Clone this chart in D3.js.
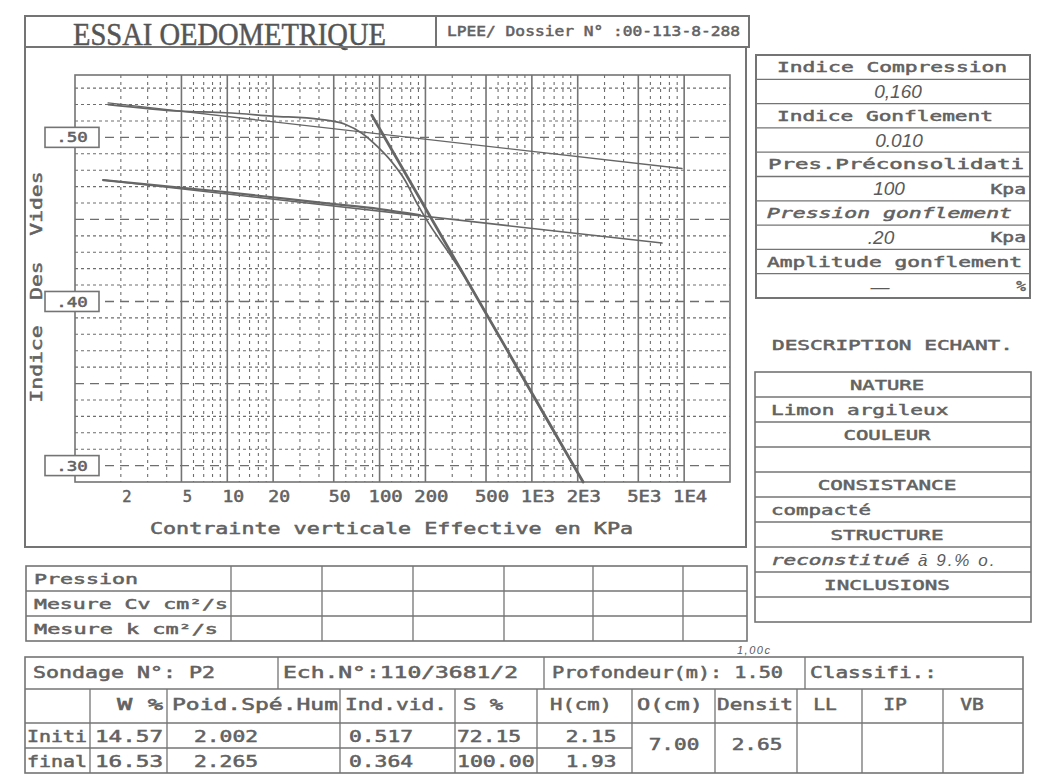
<!DOCTYPE html>
<html><head><meta charset="utf-8">
<script src="https://cdn.jsdelivr.net/npm/d3@7"></script>
<style>body{margin:0;background:#fff}svg{display:block}</style>
</head><body><svg id="c" width="1038" height="778"></svg>
<script>
// ---------------- data ----------------
const xTickValues = [2,5,10,20,50,100,200,500,1000,2000,5000,10000];
const xTickLabels = ["2","5","10","20","50","100","200","500","1E3","2E3","5E3","1E4"];
const xMajorGrid = [5,10,20,50,100,200,500,1000,2000,5000,10000];
const xMinorGrid = [2,3,4,6,7,8,9,12,14,16,18,30,40,60,70,80,90,120,140,160,180,300,400,600,700,800,900,1200,1400,1600,1800,3000,4000,6000,7000,8000,9000];
const yLabelValues = [0.50,0.40,0.30];
const yLabels = [".50",".40",".30"];
const yDashedGrid = [0.30,0.35,0.40,0.45,0.50];
const yMinorGrid = [0.31,0.32,0.33,0.34,0.36,0.37,0.38,0.39,0.41,0.42,0.43,0.44,0.46,0.47,0.48,0.49,0.51,0.52,0.53];

// experimental loading curve (stress kPa, void ratio)
const loadStress = [1.65,4.9,9.8,19.7,40.6,59.3,76.6,97.7,120.6,146.8,178.7,214,277,363,531,774,1150,1600,2170];
const loadVoid   = [0.520,0.516,0.515,0.513,0.511,0.508,0.5025,0.494,0.4849,0.4739,0.4587,0.4465,0.4313,0.415,0.3885,0.362,0.334,0.311,0.290];
// lower experimental curve
const lowStress = [1.53,9,47,100,184];
const lowVoid   = [0.474,0.467,0.4596,0.4563,0.4526];
// construction lines
const ccStress = [89,2170];     const ccVoid = [0.5135,0.290];
const recStress = [1.65,9680];  const recVoid = [0.521,0.481];
const csStress = [1.53,7150];   const csVoid = [0.474,0.4356];

const titleText = "ESSAI OEDOMETRIQUE";
const dossierText = "LPEE/ Dossier N° :00-113-8-288";
const yTitle = "Indice\u00a0\u00a0Des\u00a0\u00a0Vides";
const xTitle = "Contrainte verticale Effective en KPa";

const panelLabels = ["Indice Compression","Indice Gonflement","Pres.Préconsolidati","Pression gonflement","Amplitude gonflement"];
const panelValues = ["0,160","0.010","100",".20","—"];
const panelUnits  = ["","","Kpa","Kpa","%"];

const descTitle = "DESCRIPTION ECHANT.";
const descHeads = ["NATURE","COULEUR","CONSISTANCE","STRUCTURE","INCLUSIONS"];
const descValues = ["Limon argileux","","compacté","reconstitué",""];
const descHand = "ā 9.% o.";

const cvRows = ["Pression","Mesure Cv cm²/s","Mesure k cm²/s"];

const infoRow = ["Sondage N°: P2","Ech.N°:110/3681/2","Profondeur(m): 1.50","Classifi.:"];
const colHeads = ["","W %","Poid.Spé.Hum","Ind.vid.","S %","H(cm)","O(cm)","Densit","LL","IP","VB"];
const initRow = ["Initi","14.57","2.002","0.517","72.15","2.15"];
const finalRow = ["final","16.53","2.265","0.364","100.00","1.93"];
const sharedVals = ["7.00","2.65"];
const handNote = "1,00c";

// ---------------- drawing ----------------
const svg = d3.select("#c");
const INK = "#747474", TXT = "#626262", HAND = "#5a5a5a";
const MONO = "'DejaVu Sans Mono','Liberation Mono',monospace";
const HANDF = "'Liberation Sans','DejaVu Sans',sans-serif";

// o.w : visible width; o.adv : per-character advance (width = n*adv)
function T(x, yc, s, o = {}) {
  const fs = o.fs || 14;
  const t = svg.append("text").attr("x", x).attr("y", yc + 0.36 * fs).text(s)
    .attr("font-family", o.ff || MONO).attr("font-size", fs)
    .attr("fill", o.fill || TXT).attr("text-anchor", o.anchor || "start");
  let w = o.w;
  if (!w && o.adv) w = s.length * o.adv - 0.25 * o.adv;
  if (w) t.attr("textLength", w).attr("lengthAdjust", o.adj || "spacingAndGlyphs");
  else if (o.ls != null) t.attr("letter-spacing", o.ls);
  if (o.italic) t.attr("font-style", "italic");
  if (!o.ff) t.attr("stroke", o.fill || TXT).attr("stroke-width", 0.5);
  return t;
}
function R(x, y, w, h, sw = 1.5, fill = "none") {
  return svg.append("rect").attr("x", x).attr("y", y).attr("width", w).attr("height", h)
    .attr("fill", fill).attr("stroke", INK).attr("stroke-width", sw);
}
function L(x1, y1, x2, y2, sw = 1.3) {
  return svg.append("line").attr("x1", x1).attr("y1", y1).attr("x2", x2).attr("y2", y2)
    .attr("stroke", INK).attr("stroke-width", sw);
}

// Title row
R(25, 16, 411, 31, 2);
R(436, 16, 313, 31, 2);
T(73, 33, titleText, {ff: "'Liberation Serif',serif", fs: 32, w: 313, fill: "#555"})
  .attr("stroke", "#555").attr("stroke-width", 0.5);
T(447, 31, dossierText, {fs: 14, w: 293});

// Main frame
R(25, 47, 721, 500, 2);

// Plot scales
const X0 = 75, X1 = 730, Y0 = 75, Y1 = 482;
const x = d3.scaleLog().domain([1, 20000]).range([X0, X1]);
const y = d3.scaleLinear().domain([0.29, 0.538]).range([Y1, Y0]);

const g = svg.append("g");
g.selectAll(".hm").data(yMinorGrid).join("line")
  .attr("x1", X0).attr("x2", X1).attr("y1", d => y(d)).attr("y2", d => y(d))
  .attr("stroke", "#6e6e6e").attr("stroke-width", 1.1).attr("stroke-dasharray", "3,3");
g.selectAll(".hd").data(yDashedGrid).join("line")
  .attr("x1", X0).attr("x2", X1).attr("y1", d => y(d)).attr("y2", d => y(d))
  .attr("stroke", "#6e6e6e").attr("stroke-width", 1.3).attr("stroke-dasharray", "9,6");
g.selectAll(".vm").data(xMinorGrid).join("line")
  .attr("x1", d => x(d)).attr("x2", d => x(d)).attr("y1", Y0).attr("y2", Y1)
  .attr("stroke", "#6e6e6e").attr("stroke-width", 1.1).attr("stroke-dasharray", "3,4");
g.selectAll(".vM").data(xMajorGrid).join("line")
  .attr("x1", d => x(d)).attr("x2", d => x(d)).attr("y1", Y0).attr("y2", Y1)
  .attr("stroke", INK).attr("stroke-width", 1.6);
R(X0, Y0, X1 - X0, Y1 - Y0, 1.6);

// curves and lines
function pts(xs, ys) { return xs.map((v, i) => [x(v), y(ys[i])]); }
const line = d3.line();
const curve = d3.line().curve(d3.curveMonotoneX);
function path(p, gen, sw) {
  svg.append("path").attr("d", gen(p)).attr("fill", "none").attr("stroke", "#666")
    .attr("stroke-width", sw).attr("stroke-linejoin", "round").attr("stroke-linecap", "round");
}
path(pts(recStress, recVoid), line, 1.4);
path(pts(csStress, csVoid), line, 1.6);
path(pts(lowStress, lowVoid), curve, 2.2);
path(pts(loadStress, loadVoid), curve, 1.7);
path(pts(ccStress, ccVoid), line, 2.8);

// y labels (boxed)
yLabelValues.forEach((v, i) => {
  R(45, y(v) - 10, 54, 20, 1.6, "#fff");
  T(72, y(v), yLabels[i], {fs: 14, anchor: "middle", adv: 11.5});
});
// x tick labels
xTickValues.forEach((v, i) => {
  T(x(v) + 6, 497, xTickLabels[i], {fs: 15, anchor: "middle", adv: 12.4});
});
// axis titles
T(150, 529, xTitle, {fs: 15, w: 483});
svg.append("text").attr("transform", "translate(" + (36 + 0.36 * 16) + ",287) rotate(-90)")
  .attr("text-anchor", "middle").attr("font-family", MONO).attr("font-size", 16)
  .attr("stroke", TXT).attr("stroke-width", 0.5)
  .attr("fill", TXT).attr("textLength", 231).attr("lengthAdjust", "spacingAndGlyphs").text(yTitle);

// ---------------- right panel ----------------
const PX = 756, PW = 274, PT = 55, PH = 24.3;
R(PX, PT, PW, PH * 10, 2);
for (let i = 1; i < 10; i++) L(PX, PT + PH * i, PX + PW, PT + PH * i, 1.3);
const labelLayout = [[777, 230], [777, 216], [768, 256], [767, 245], [767, 255]];
const valueCx = [898, 899, 889, 881, 880];
panelLabels.forEach((s, i) => {
  T(labelLayout[i][0], PT + PH * (2 * i + 0.5), s, {fs: 14, w: labelLayout[i][1], italic: i === 3});
  T(valueCx[i], PT + PH * (2 * i + 1.5), panelValues[i], {ff: HANDF, fs: 19, italic: true, anchor: "middle", fill: HAND});
  if (panelUnits[i]) T(1026, PT + PH * (2 * i + 1.5), panelUnits[i], {fs: 14, anchor: "end", adv: 12.9});
});

// description
T(772, 345, descTitle, {fs: 14, w: 241});
const DT = 372, DH = 25;
R(755, DT, 276, DH * 10, 1.6);
for (let i = 1; i < 10; i++) L(755, DT + DH * i, 1031, DT + DH * i, 1.3);
descHeads.forEach((s, i) => {
  T(887, DT + DH * (2 * i + 0.5), s, {fs: 14, anchor: "middle", adv: 12.9});
  if (descValues[i]) T(771, DT + DH * (2 * i + 1.5), descValues[i], {fs: 14, adv: 12.9, italic: i === 3});
});
T(918, DT + DH * 7.5, descHand, {ff: HANDF, fs: 17, italic: true, fill: HAND, ls: 2});

// Cv table
R(26, 566, 721, 75, 1.6);
L(26, 591, 747, 591); L(26, 616, 747, 616);
[231, 322, 413, 504, 593, 683].forEach(cx => L(cx, 566, cx, 641));
const cvW = [104, 194, 184];
cvRows.forEach((s, i) => T(34, 578.5 + 25 * i, s, {fs: 14, w: cvW[i]}));

// bottom table
R(25, 657, 998, 116, 1.6);
L(25, 689, 1023, 689); L(25, 723, 1023, 723); L(25, 748, 632, 748);
[278, 544, 805].forEach(cx => L(cx, 657, cx, 689));
[90, 167, 340, 455, 537, 632, 715, 797, 862, 943].forEach(cx => L(cx, 689, cx, 773));
const infoLayout = [[33, 182], [283, 235], [552, 231], [810, 127]];
infoRow.forEach((s, i) => T(infoLayout[i][0], 673, s, {fs: 15, w: infoLayout[i][1]}));
const headLayout = [null, [117, 46], [172, 166], [345, 102], [463, 40], [550, 62], [637, 66], [717, 76], [825], [895], [972]];
colHeads.forEach((s, i) => {
  if (!s) return;
  const l = headLayout[i];
  if (l.length === 2) T(l[0], 705, s, {fs: 15, w: l[1]});
  else T(l[0], 705, s, {fs: 15, anchor: "middle", adv: 13.5});
});
const rowLayout = [[27, 60, "s"], [95, 68, "s"], [226, 0, "m"], [381, 0, "m"], [457, 0, "s"], [591, 0, "m"]];
[initRow, finalRow].forEach((row, r) => {
  row.forEach((s, i) => {
    const l = rowLayout[i];
    const yc = r === 0 ? 737 : 762;
    if (l[2] === "s") {
      if (l[1]) T(l[0], yc, s, {fs: 15, w: l[1]});
      else T(l[0], yc, s, {fs: 15, adv: 13.5});
    } else T(l[0], yc, s, {fs: 15, anchor: "middle", adv: 13.5});
  });
});
T(674, 745, sharedVals[0], {fs: 15, anchor: "middle", adv: 13.5});
T(757, 745, sharedVals[1], {fs: 15, anchor: "middle", adv: 13.5});
T(737, 650, handNote, {ff: HANDF, fs: 11, italic: true, fill: HAND, ls: 1.5});
</script></body></html>
